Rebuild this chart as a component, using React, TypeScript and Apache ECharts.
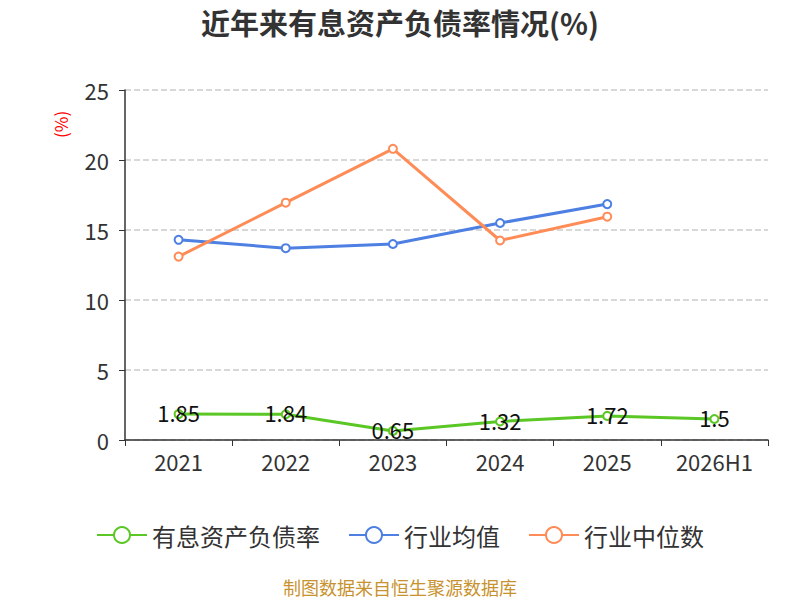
import { useEffect, useRef } from 'react'
import * as echarts from 'echarts'

const categories = ['2021', '2022', '2023', '2024', '2025', '2026H1']
const debtRatio = [1.85, 1.84, 0.65, 1.32, 1.72, 1.5]
const industryAvg = [14.3, 13.7, 14.0, 15.5, 16.85, null]
const industryMedian = [13.1, 16.95, 20.8, 14.25, 15.95, null]
const seriesNames = ['有息资产负债率', '行业均值', '行业中位数']
const seriesColors = ['#5BC725', '#4D80E2', '#FF8C56']

const font = "'Noto Sans CJK SC', 'Noto Sans', sans-serif"

export default function App() {
  const chartRef = useRef<HTMLDivElement>(null)

  useEffect(() => {
    document.body.style.margin = '0'
    if (!chartRef.current) return
    const chart = echarts.init(chartRef.current, undefined, { renderer: 'svg' })

    const lineSeries = (name: string, data: any[], color: string, extra: any = {}) => ({
      name,
      type: 'line',
      data,
      symbol: 'emptyCircle',
      symbolSize: 8,
      color,
      lineStyle: { width: 3, color },
      itemStyle: { color, borderWidth: 2 },
      ...extra
    })

    const option: any = {
      animation: false,
      textStyle: { fontFamily: font },
      title: {
        text: '近年来有息资产负债率情况(%)',
        left: 'center',
        top: 2,
        textStyle: { fontSize: 29, fontWeight: 'bold', color: '#333', fontFamily: font }
      },
      legend: {
        bottom: 48,
        left: 'center',
        itemWidth: 50,
        itemHeight: 20,
        itemGap: 28,
        textStyle: { fontSize: 24, color: '#333', fontFamily: font },
        data: seriesNames
      },
      grid: {
        left: 125,
        right: 32,
        top: 90,
        bottom: 160
      },
      xAxis: {
        type: 'category',
        data: categories,
        axisLine: { lineStyle: { color: '#333', width: 1.5 } },
        axisTick: { show: true, lineStyle: { color: '#333' }, length: 6 },
        axisLabel: { fontSize: 22, color: '#333', margin: 10, fontFamily: font }
      },
      yAxis: {
        type: 'value',
        min: 0,
        max: 25,
        interval: 5,
        axisLine: { show: true, lineStyle: { color: '#333', width: 1.5 } },
        axisTick: { show: true, lineStyle: { color: '#333' }, length: 6 },
        axisLabel: { fontSize: 22, color: '#333', margin: 16, fontFamily: font },
        splitLine: { lineStyle: { type: 'dashed', color: '#ccc', width: 1.5 } }
      },
      graphic: [
        {
          type: 'text',
          x: 52,
          y: 138,
          rotation: Math.PI / 2,
          style: { text: '(%)', fill: '#ff0000', fontSize: 17, fontFamily: font }
        },
        {
          type: 'text',
          left: 'center',
          top: 578,
          style: { text: '制图数据来自恒生聚源数据库', fill: '#C8922E', fontSize: 18, fontFamily: font }
        }
      ],
      series: [
        lineSeries(seriesNames[0], debtRatio, seriesColors[0], {
          z: 3,
          label: {
            show: true,
            position: 'top',
            distance: 0,
            offset: [0, 14],
            fontSize: 22,
            color: '#111',
            fontFamily: font
          }
        }),
        lineSeries(seriesNames[1], industryAvg, seriesColors[1]),
        lineSeries(seriesNames[2], industryMedian, seriesColors[2])
      ]
    }

    chart.setOption(option)
    return () => {
      chart.dispose()
    }
  }, [])

  return <div ref={chartRef} style={{ width: 800, height: 600 }} />
}
